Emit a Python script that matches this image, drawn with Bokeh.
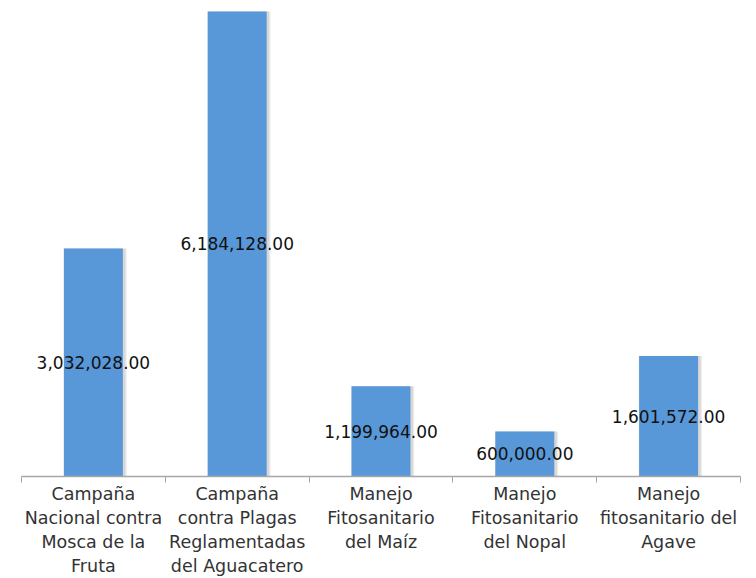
from bokeh.plotting import figure
from bokeh.models import ColumnDataSource, FixedTicker, Range1d
from bokeh.core.properties import value
from bokeh.transform import dodge
from bokeh.embed import file_html
from bokeh.resources import INLINE

categories = [
    "Campaña\nNacional contra\nMosca de la\nFruta",
    "Campaña\ncontra Plagas\nReglamentadas\ndel Aguacatero",
    "Manejo\nFitosanitario\ndel Maíz",
    "Manejo\nFitosanitario\ndel Nopal",
    "Manejo\nfitosanitario del\nAgave",
]
amounts = [3032028.00, 6184128.00, 1199964.00, 600000.00, 1601572.00]
amount_labels = ["{:,.2f}".format(v) for v in amounts]

xs = [i + 0.5 for i in range(len(categories))]
src = ColumnDataSource(dict(
    x=xs,
    top=amounts,
    mid=[v / 2 for v in amounts],
    label=amount_labels,
))

p = figure(width=748, height=578, output_backend="svg", toolbar_location=None,
           x_range=Range1d(0, 5), y_range=Range1d(0, 6330400),
           min_border_left=21, min_border_right=8, min_border_top=0, min_border_bottom=0)
p.outline_line_color = None
p.grid.grid_line_color = None
p.yaxis.visible = False
p.background_fill_color = "white"

# soft shadow
p.vbar(x=dodge("x", 0.012), top="top", width=0.44, bottom=0, source=src,
       fill_color="#9a9a9a", fill_alpha=0.18, line_color=None)
p.vbar(x=dodge("x", 0.01), top="top", width=0.425, bottom=0, source=src,
       fill_color="#9a9a9a", fill_alpha=0.25, line_color=None)
p.vbar(x="x", top="top", width=0.41, bottom=0, source=src,
       fill_color="#5898d8", line_color=None)

p.text(x="x", y="mid", text="label", source=src,
       text_align="center", text_baseline="middle",
       text_font=value("DejaVu Sans"), text_font_size="17px", text_color="#111111")

ax = p.xaxis[0]
ax.ticker = FixedTicker(ticks=xs, minor_ticks=[0, 1, 2, 3, 4, 5])
ax.major_label_overrides = {x: c for x, c in zip(xs, categories)}
ax.major_tick_out = 0
ax.major_tick_in = 0
ax.minor_tick_out = 6
ax.minor_tick_in = 0
ax.minor_tick_line_color = "#a6a6a6"
ax.axis_line_color = "#a6a6a6"
ax.axis_line_width = 1.3
ax.major_label_text_font = "DejaVu Sans"
ax.major_label_text_font_size = "17.5px"
ax.major_label_text_color = "#333333"
ax.major_label_standoff = 1
ax.major_label_orientation = "horizontal"

open("out.html", "w").write(file_html(p, INLINE))
